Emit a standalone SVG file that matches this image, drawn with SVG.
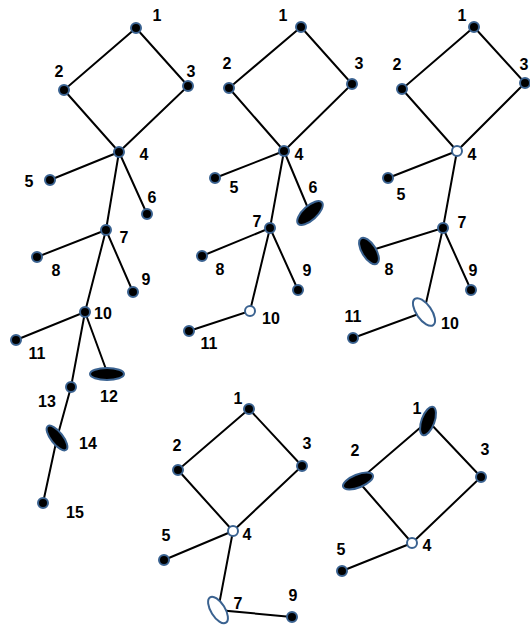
<svg xmlns="http://www.w3.org/2000/svg" width="530" height="626" viewBox="0 0 530 626">
<style>
.e{stroke:#000;stroke-width:2;fill:none;stroke-linecap:round}
.n{fill:#000;stroke:#3a6290;stroke-width:2}
.h{fill:#fff;stroke:#3a6290;stroke-width:2}
text{font-family:"Liberation Sans",Arial,sans-serif;font-weight:bold;font-size:16px;fill:#000;text-anchor:middle}
</style>
<rect width="530" height="626" fill="#fff"/>
<g id="connectors">
<path class="e" d="M136,28L64,90L119,152L188,86L136,28M119,152L50,180M119,152L147,214M119,152L106,230L37,257M106,230L133,292M106,230L85,312L16,340M85,312L107,372M85,312L71,387L57,438L43,503"/>
<path class="e" d="M301,27L229,88L284,151L352,84L301,27M284,151L215,178M284,151L310,213M284,151L270,228L202,256M270,228L298,290M270,228L250,311L189,331"/>
<path class="e" d="M474,27L402,89L457,151L525,83L474,27M457,151L388,178M457,151L443,228L369,251M443,228L471,290M443,228L424,312L353,338"/>
<path class="e" d="M249,409L178,470L233,531L302,466L249,409M233,531L164,560M233,531L218,610L292,617"/>
<path class="e" d="M428,421L358,481L412,543L481,477L428,421M412,543L342,571"/>
</g>
<g id="d1">
<g id="d1n1"><circle class="n" cx="136" cy="28" r="5"/><text x="157" y="21">1</text></g>
<g id="d1n2"><circle class="n" cx="64" cy="90" r="5"/><text x="59" y="77">2</text></g>
<g id="d1n3"><circle class="n" cx="188" cy="86" r="5"/><text x="191" y="77">3</text></g>
<g id="d1n4"><circle class="n" cx="119" cy="152" r="5"/><text x="144" y="160">4</text></g>
<g id="d1n5"><circle class="n" cx="50" cy="180" r="5"/><text x="29" y="187">5</text></g>
<g id="d1n6"><circle class="n" cx="147" cy="214" r="5"/><text x="152" y="203">6</text></g>
<g id="d1n7"><circle class="n" cx="106" cy="230" r="5"/><text x="124" y="243">7</text></g>
<g id="d1n8"><circle class="n" cx="37" cy="257" r="5"/><text x="56" y="276">8</text></g>
<g id="d1n9"><circle class="n" cx="133" cy="292" r="5"/><text x="146" y="285">9</text></g>
<g id="d1n10"><circle class="n" cx="85" cy="312" r="5"/><text x="103" y="319">10</text></g>
<g id="d1n11"><circle class="n" cx="16" cy="340" r="5"/><text x="37" y="359">11</text></g>
<g id="d1n12"><ellipse class="n" cx="107" cy="374" rx="17" ry="6"/><text x="109" y="402">12</text></g>
<g id="d1n13"><circle class="n" cx="71" cy="387" r="5"/><text x="47" y="407">13</text></g>
<g id="d1n14"><ellipse class="n" cx="57" cy="438" rx="15" ry="6" transform="rotate(52 57 438)"/><text x="88" y="449">14</text></g>
<g id="d1n15"><circle class="n" cx="43" cy="503" r="5"/><text x="75" y="518">15</text></g>
</g>
<g id="d2">
<g id="d2n1"><circle class="n" cx="301" cy="27" r="5"/><text x="283" y="21">1</text></g>
<g id="d2n2"><circle class="n" cx="229" cy="88" r="5"/><text x="227" y="69">2</text></g>
<g id="d2n3"><circle class="n" cx="352" cy="84" r="5"/><text x="359" y="69">3</text></g>
<g id="d2n4"><circle class="n" cx="284" cy="151" r="5"/><text x="299" y="160">4</text></g>
<g id="d2n5"><circle class="n" cx="215" cy="178" r="5"/><text x="234" y="193">5</text></g>
<g id="d2n6"><ellipse class="n" cx="310" cy="213" rx="16" ry="7" transform="rotate(-42 310 213)"/><text x="313" y="193">6</text></g>
<g id="d2n7"><circle class="n" cx="270" cy="228" r="5"/><text x="257" y="227">7</text></g>
<g id="d2n8"><circle class="n" cx="202" cy="256" r="5"/><text x="220" y="275">8</text></g>
<g id="d2n9"><circle class="n" cx="298" cy="290" r="5"/><text x="307" y="276">9</text></g>
<g id="d2n10"><circle class="h" cx="250" cy="311" r="5"/><text x="271" y="324">10</text></g>
<g id="d2n11"><circle class="n" cx="189" cy="331" r="5"/><text x="209" y="349">11</text></g>
</g>
<g id="d3">
<g id="d3n1"><circle class="n" cx="474" cy="27" r="5"/><text x="462" y="21">1</text></g>
<g id="d3n2"><circle class="n" cx="402" cy="89" r="5"/><text x="397" y="70">2</text></g>
<g id="d3n3"><circle class="n" cx="525" cy="83" r="5"/><text x="524" y="70">3</text></g>
<g id="d3n4"><circle class="h" cx="457" cy="151" r="5"/><text x="472" y="160">4</text></g>
<g id="d3n5"><circle class="n" cx="388" cy="178" r="5"/><text x="401" y="200">5</text></g>
<g id="d3n7"><circle class="n" cx="443" cy="228" r="5"/><text x="462" y="228">7</text></g>
<g id="d3n8"><ellipse class="n" cx="369" cy="251" rx="15" ry="7" transform="rotate(58 369 251)"/><text x="389" y="275">8</text></g>
<g id="d3n9"><circle class="n" cx="471" cy="290" r="5"/><text x="473" y="276">9</text></g>
<g id="d3n10"><ellipse class="h" cx="424" cy="312" rx="16" ry="7.5" transform="rotate(55 424 312)"/><text x="450" y="329">10</text></g>
<g id="d3n11"><circle class="n" cx="353" cy="338" r="5"/><text x="353" y="322">11</text></g>
</g>
<g id="d4">
<g id="d4n1"><circle class="n" cx="249" cy="409" r="5"/><text x="238" y="404">1</text></g>
<g id="d4n2"><circle class="n" cx="178" cy="470" r="5"/><text x="177" y="451">2</text></g>
<g id="d4n3"><circle class="n" cx="302" cy="466" r="5"/><text x="307" y="449">3</text></g>
<g id="d4n4"><circle class="h" cx="233" cy="531" r="5"/><text x="247" y="540">4</text></g>
<g id="d4n5"><circle class="n" cx="164" cy="560" r="5"/><text x="166" y="541">5</text></g>
<g id="d4n7"><ellipse class="h" cx="218" cy="610" rx="15" ry="7" transform="rotate(58 218 610)"/><text x="238" y="609">7</text></g>
<g id="d4n9"><circle class="n" cx="292" cy="617" r="5"/><text x="293" y="601">9</text></g>
</g>
<g id="d5">
<g id="d5n1"><ellipse class="n" cx="428" cy="421" rx="15" ry="6.5" transform="rotate(-70 428 421)"/><text x="417" y="414">1</text></g>
<g id="d5n2"><ellipse class="n" cx="358" cy="481" rx="16" ry="6.5" transform="rotate(-22 358 481)"/><text x="355" y="456">2</text></g>
<g id="d5n3"><circle class="n" cx="481" cy="477" r="5"/><text x="485" y="455">3</text></g>
<g id="d5n4"><circle class="h" cx="412" cy="543" r="5"/><text x="427" y="551">4</text></g>
<g id="d5n5"><circle class="n" cx="342" cy="571" r="5"/><text x="341" y="555">5</text></g>
</g>
</svg>
